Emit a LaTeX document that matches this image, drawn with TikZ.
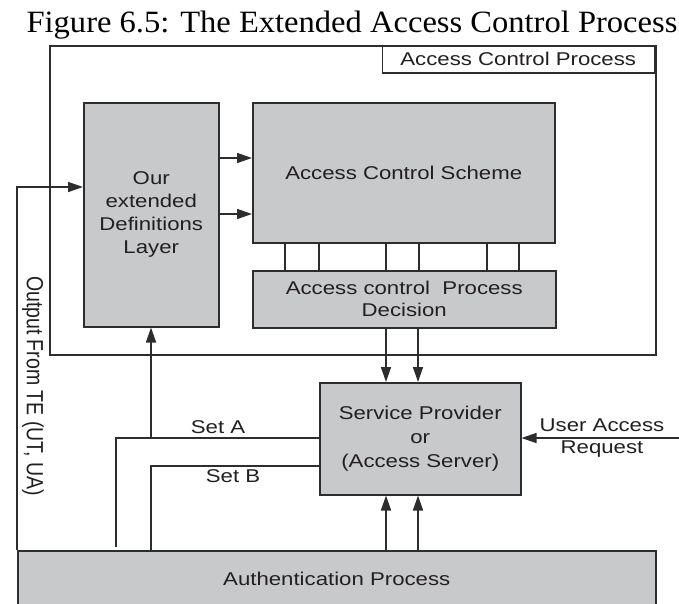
\documentclass[tikz,border=0pt]{standalone}
\usepackage{fontspec}
\setmainfont{Liberation Sans}[FakeStretch=1.2]
\newfontfamily\plainsans{Liberation Sans}
\newfontfamily\titlefont{Liberation Serif}[FakeStretch=1.05]
\usetikzlibrary{arrows.meta,calc}
\definecolor{boxgray}{RGB}{200,201,203}
\definecolor{ink}{RGB}{35,31,32}
\definecolor{edge}{RGB}{45,45,45}
\tikzset{
  box/.style={draw=edge, fill=boxgray, line width=1.5pt, text=ink, align=center,
    inner sep=0pt, font=\fontsize{18.5}{23}\selectfont},
  frame/.style={draw=edge, line width=1.5pt, inner sep=0pt},
  lbl/.style={text=ink, align=center, inner sep=0pt, font=\fontsize{18.5}{22}\selectfont},
  conn/.style={draw=edge, line width=1.5pt},
  arr/.style={conn, -{Triangle[length=15pt,width=10pt]}},
}
\begin{document}
\begin{tikzpicture}[x=1pt,y=-1pt]
\clip (0,0) rectangle (679,603);
\fill[white] (0,0) rectangle (679,603);
% title
\node[inner sep=0pt, text=black, font=\titlefont\fontsize{31}{36}\selectfont] (title) at (352,25) {Figure 6.5: The Extended Access Control Process};
% outer frame
\node[frame, minimum width=606pt, minimum height=309pt, anchor=north west] (acp) at (49,45) {};
\node[frame, minimum width=272pt, minimum height=27pt, anchor=north east, text=ink,
  font=\fontsize{18.5}{22}\selectfont] (acplbl) at (655,45) {Access Control Process};
% boxes
\node[box, minimum width=135pt, minimum height=224pt, anchor=north west] (def) at (83,102)
  {Our\\extended\\Definitions\\Layer};
\node[box, minimum width=302pt, minimum height=140pt, anchor=north west] (acs) at (252,102)
  {Access Control Scheme};
\node[box, minimum width=303pt, minimum height=57pt, anchor=north west, font=\fontsize{18.5}{22}\selectfont] (dec) at (252,270)
  {Access control~~Process\\Decision};
\node[box, minimum width=201pt, minimum height=112pt, anchor=north west, font=\fontsize{18.5}{24}\selectfont] (sp) at (319,382)
  {Service Provider\\or\\(Access Server)};
\node[box, minimum width=638pt, minimum height=57pt, anchor=north west] (auth) at (17,550)
  {Authentication Process};
% helper coordinates
\coordinate (yin) at (0,187);
\coordinate (y1) at (0,158);
\coordinate (y2) at (0,214);
\coordinate (yA) at (0,438);
\coordinate (yB) at (0,466);
\coordinate (xA) at (116,0);
\coordinate (xB) at (151,0);
\coordinate (d1) at (386,0);
\coordinate (d2) at (418,0);
\coordinate (uar) at (679,438);
% connectors
\draw[arr] (auth.north west) |- (def.west |- yin);
\draw[arr] (def.east |- y1) -- (acs.west |- y1);
\draw[arr] (def.east |- y2) -- (acs.west |- y2);
\foreach \xx in {285,319,386,419,487,519}{
  \coordinate (tmp) at (\xx,0);
  \draw[conn] (acs.south -| tmp) -- (dec.north -| tmp);
}
\draw[arr] (dec.south -| d1) -- (sp.north -| d1);
\draw[arr] (dec.south -| d2) -- (sp.north -| d2);
\draw[arr] (auth.north -| d1) -- (sp.south -| d1);
\draw[arr] (auth.north -| d2) -- (sp.south -| d2);
\draw[conn] ([yshift=3pt]auth.north -| xA) |- (sp.west |- yA);
\draw[arr] (xB |- yA) -- (def.south -| xB);
\draw[conn] (auth.north -| xB) |- (sp.west |- yB);
\draw[arr] (uar) -- (sp.east |- uar);
% labels
\node[lbl] (setA) at (218,427) {Set A};
\node[lbl] (setB) at (233,476) {Set B};
\node[lbl] (uarl) at (602,438) {User Access\\Request};
\node[lbl, rotate=-90, font=\plainsans\fontsize{19.5}{22}\selectfont] (out) at (33,386) {\scalebox{1}[1.2]{Output From TE (UT, UA)}};
\end{tikzpicture}
\end{document}
